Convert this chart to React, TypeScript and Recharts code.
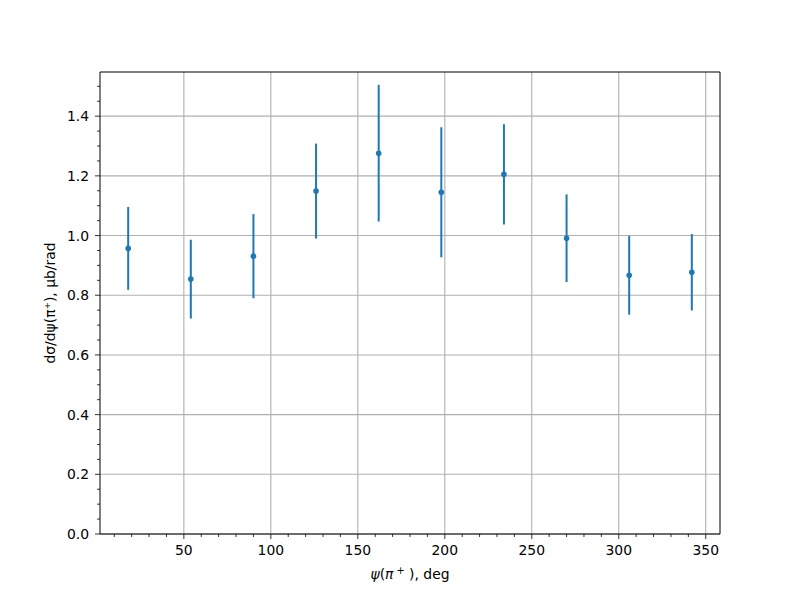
import React from 'react';
import { ScatterChart, Scatter, XAxis, YAxis, CartesianGrid, ErrorBar, ReferenceLine } from 'recharts';

// measured angle bins (deg) and cross-section values
const angles = [18, 54, 90, 126, 162, 198, 234, 270, 306, 342];
const values = [0.957, 0.854, 0.931, 1.149, 1.276, 1.145, 1.205, 0.991, 0.867, 0.877];
const errors = [0.139, 0.132, 0.141, 0.159, 0.229, 0.218, 0.168, 0.147, 0.132, 0.128];

const xMajorTicks = [50, 100, 150, 200, 250, 300, 350];
const xAllTicks = [10, 20, 30, 40, 50, 60, 70, 80, 90, 100, 110, 120, 130, 140, 150, 160, 170, 180,
  190, 200, 210, 220, 230, 240, 250, 260, 270, 280, 290, 300, 310, 320, 330, 340, 350];
const yMajorTicks = [0, 0.2, 0.4, 0.6, 0.8, 1.0, 1.2, 1.4];
const yAllTicks = [0, 0.05, 0.1, 0.15, 0.2, 0.25, 0.3, 0.35, 0.4, 0.45, 0.5, 0.55, 0.6, 0.65, 0.7,
  0.75, 0.8, 0.85, 0.9, 0.95, 1.0, 1.05, 1.1, 1.15, 1.2, 1.25, 1.3, 1.35, 1.4, 1.45, 1.5];

const xDomain = [1.8, 358.2];
const yDomain = [0, 1.548];

const FONT = 'DejaVu Sans, sans-serif';
const BLUE = '#1f77b4';

const data = angles.map((x, i) => ({ x, y: values[i], err: errors[i] }));

const XTick = (props: any) => {
  const { x, y, payload } = props;
  const major = xMajorTicks.includes(payload.value);
  return (
    <g>
      <line x1={x} x2={x} y1={y} y2={y + (major ? 5 : 3)} stroke="#000" strokeWidth={0.8} />
      {major && (
        <text x={x} y={y + 21} textAnchor="middle" fontFamily={FONT} fontSize={13.9} fill="#000">
          {payload.value}
        </text>
      )}
    </g>
  );
};

const YTick = (props: any) => {
  const { x, y, payload } = props;
  const major = yMajorTicks.some(t => Math.abs(t - payload.value) < 1e-9);
  return (
    <g>
      <line x1={x} x2={x - (major ? 5 : 3)} y1={y} y2={y} stroke="#000" strokeWidth={0.8} />
      {major && (
        <text x={x - 11} y={y + 5} textAnchor="end" fontFamily={FONT} fontSize={13.9} fill="#000">
          {payload.value.toFixed(1)}
        </text>
      )}
    </g>
  );
};

const XLabel = (props: any) => {
  const { viewBox } = props;
  const cx = viewBox.x + viewBox.width / 2;
  return (
    <text x={cx} y={579} textAnchor="middle" fontFamily={FONT} fontSize={13.9} fill="#000">
      <tspan fontStyle="italic">ψ</tspan>
      <tspan>(</tspan>
      <tspan fontStyle="italic">π</tspan>
      <tspan fontSize={9.7} dy={-5}> +</tspan>
      <tspan dy={5}> ), deg</tspan>
    </text>
  );
};

const Dot = (props: any) => <circle cx={props.cx} cy={props.cy} r={2.8} fill={BLUE} />;

export default function App() {
  return (
    <div style={{ position: 'absolute', left: 0, top: 0, width: 800, height: 600, background: '#fff' }}>
      <ScatterChart width={800} height={600} margin={{ top: 72, right: 80, bottom: 16, left: 40 }}>
        <CartesianGrid
          stroke="#b0b0b0"
          strokeWidth={1.1}
          verticalValues={xMajorTicks}
          horizontalValues={yMajorTicks}
        />
        <XAxis
          type="number"
          dataKey="x"
          domain={xDomain}
          allowDataOverflow
          ticks={xAllTicks}
          interval={0}
          tickSize={0}
          tickMargin={0}
          tickLine={false}
          tick={<XTick />}
          height={50}
          axisLine={{ stroke: '#000', strokeWidth: 1 }}
          label={<XLabel />}
        />
        <YAxis
          type="number"
          dataKey="y"
          domain={yDomain}
          allowDataOverflow
          ticks={yAllTicks}
          interval={0}
          tickSize={0}
          tickMargin={0}
          tickLine={false}
          tick={<YTick />}
          width={60}
          axisLine={{ stroke: '#000', strokeWidth: 1 }}
          label={{
            value: 'dσ/dψ(π⁺), μb/rad',
            angle: -90,
            position: 'insideLeft',
            offset: 10,
            style: { fontFamily: FONT, fontSize: 13.9, fill: '#000', textAnchor: 'middle' },
          }}
        />
        <ReferenceLine y={yDomain[1]} stroke="#000" strokeWidth={1} />
        <ReferenceLine x={xDomain[1]} stroke="#000" strokeWidth={1} />
        <Scatter
          data={data}
          dataKey="y"
          fill={BLUE}
          shape={<Dot />}
          isAnimationActive={false}
        >
          <ErrorBar dataKey="err" direction="y" width={0} stroke={BLUE} strokeWidth={2} isAnimationActive={false} />
        </Scatter>
      </ScatterChart>
    </div>
  );
}
